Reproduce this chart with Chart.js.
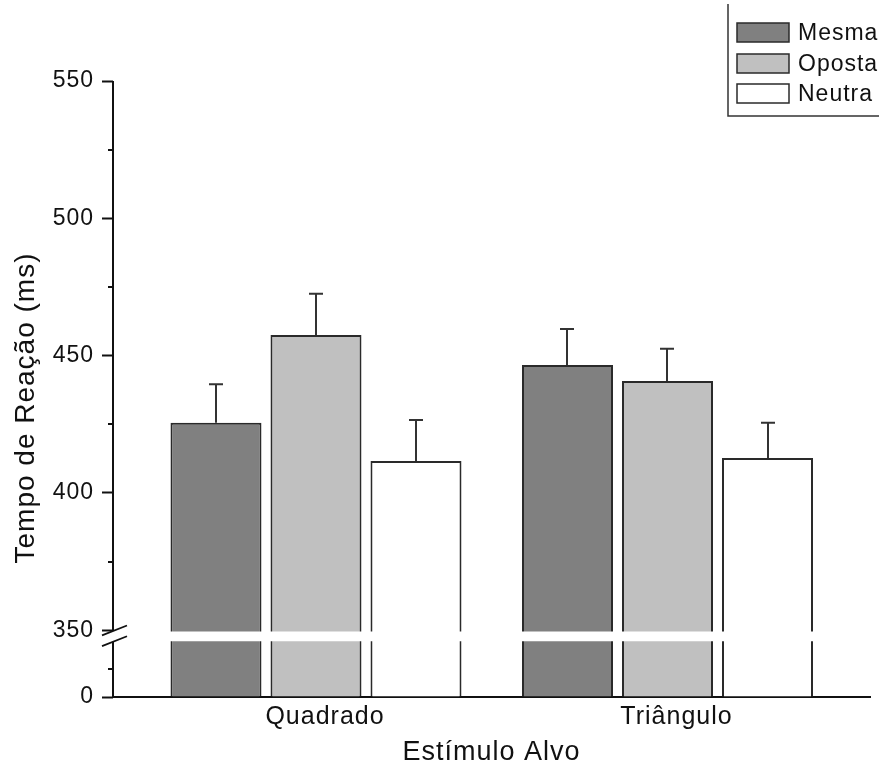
<!DOCTYPE html>
<html>
<head>
<meta charset="utf-8">
<script src="https://cdn.jsdelivr.net/npm/chart.js@4/dist/chart.umd.min.js"></script>
<style>
  html, body { margin: 0; padding: 0; background: #ffffff; }
  canvas { display: block; }
</style>
</head>
<body>
<canvas id="c" width="879" height="763"></canvas>
<script>
// ---------- data ----------
const categories = ['Quadrado', 'Triângulo'];
const seriesNames = ['Mesma', 'Oposta', 'Neutra'];
const mesma  = [425.6, 446.6];
const oposta = [457.5, 440.8];
const neutra = [411.6, 412.7];
const mesmaErr  = [14, 13.1];
const opostaErr = [15, 11.7];
const neutraErr = [15, 12.9];
const yTickValues = [0, 350, 400, 450, 500, 550];
const yMinorUpper = [375, 425, 475, 525];
const yMinorLower = [25];
const yTitle = 'Tempo de Reação (ms)';
const xTitle = 'Estímulo Alvo';

// ---------- broken axis mapping ----------
const BREAK_AT = 350;      // upper segment starts here
const UPPER_BASE = 24.3;   // display units where 350 sits
const LOWER_MAX = 50;      // lower segment 0..50
const GAP_LO = 20.3;       // display units: top of lower segment
const GAP_HI = 23.85;      // display units: bottom of upper segment
function toDisp(v) {
  if (v >= BREAK_AT) return v - BREAK_AT + UPPER_BASE;
  return Math.min(v, LOWER_MAX) / LOWER_MAX * GAP_LO;
}
const X_MIN = -0.5775, X_MAX = 1.5761;

const FONT = "'Liberation Sans', Arial, sans-serif";
const INK = '#111111';
const fills = ['#808080', '#c0c0c0', '#ffffff'];
const values = [mesma, oposta, neutra];
const errors = [mesmaErr, opostaErr, neutraErr];

const datasets = seriesNames.map((name, s) => ({
  label: name,
  data: values[s].map((v, i) => ({ x: i, y: toDisp(v) })),
  backgroundColor: fills[s],
  borderColor: '#2a2a2a',
  borderWidth: 2,
  categoryPercentage: 0.8535,
  barPercentage: 0.91
}));

const spacingPlugin = {
  id: 'spacing',
  beforeDraw(chart) { chart.ctx.letterSpacing = '1px'; }
};

const breakPlugin = {
  id: 'breakAxis',
  afterDatasetsDraw(chart) {
    const ctx = chart.ctx;
    const y = chart.scales.y;
    const area = chart.chartArea;
    const ax = area.left;
    const gTop = y.getPixelForValue(GAP_HI);
    const gBot = y.getPixelForValue(GAP_LO);
    ctx.save();
    ctx.fillStyle = '#ffffff';
    ctx.fillRect(ax + 1, gTop, area.right - ax - 1, gBot - gTop);
    ctx.strokeStyle = '#111';
    ctx.lineWidth = 2;
    ctx.beginPath();
    ctx.moveTo(ax, y.getPixelForValue(y.max));
    ctx.lineTo(ax, gTop - 0.5);
    ctx.moveTo(ax, gBot + 0.5);
    ctx.lineTo(ax, y.getPixelForValue(0));
    ctx.stroke();
    ctx.lineWidth = 1.8;
    ctx.beginPath();
    [gTop - 0.5, gBot + 0.5].forEach(g => {
      ctx.moveTo(ax - 11, g + 4.3);
      ctx.lineTo(ax + 14, g - 5.5);
    });
    ctx.stroke();
    ctx.lineWidth = 2;
    ctx.beginPath();
    yMinorUpper.concat(yMinorLower).forEach(v => {
      const py = Math.round(y.getPixelForValue(toDisp(v)));
      ctx.moveTo(ax - 5, py);
      ctx.lineTo(ax, py);
    });
    ctx.stroke();
    ctx.strokeStyle = '#333';
    ctx.lineWidth = 2;
    chart.data.datasets.forEach((ds, s) => {
      const meta = chart.getDatasetMeta(s);
      meta.data.forEach((bar, i) => {
        const top = y.getPixelForValue(toDisp(values[s][i] + errors[s][i]));
        const bx = Math.round(bar.x);
        ctx.beginPath();
        ctx.moveTo(bx, bar.y);
        ctx.lineTo(bx, top);
        ctx.moveTo(bx - 7, top);
        ctx.lineTo(bx + 7, top);
        ctx.stroke();
      });
    });
    ctx.restore();
  }
};

const titlesLegendPlugin = {
  id: 'titlesLegend',
  afterDraw(chart) {
    const ctx = chart.ctx;
    const area = chart.chartArea;
    ctx.save();
    ctx.letterSpacing = '1px';
    ctx.fillStyle = INK;
    ctx.font = `27px ${FONT}`;
    ctx.textAlign = 'center';
    ctx.textBaseline = 'alphabetic';
    ctx.fillText(xTitle, (area.left + area.right) / 2, 759.5);
    ctx.save();
    ctx.translate(33.5, 408);
    ctx.rotate(-Math.PI / 2);
    ctx.font = `28px ${FONT}`;
    ctx.fillText(yTitle, 0, 0);
    ctx.restore();
    ctx.strokeStyle = '#333';
    ctx.lineWidth = 1.5;
    ctx.beginPath();
    ctx.moveTo(728, 4);
    ctx.lineTo(728, 116);
    ctx.lineTo(879, 116);
    ctx.stroke();
    const tops = [23, 54, 84];
    ctx.font = `23px ${FONT}`;
    ctx.textAlign = 'left';
    ctx.textBaseline = 'middle';
    chart.data.datasets.forEach((ds, s) => {
      ctx.fillStyle = ds.backgroundColor;
      ctx.fillRect(737, tops[s], 52, 19);
      ctx.strokeStyle = '#2a2a2a';
      ctx.lineWidth = 1.5;
      ctx.strokeRect(737, tops[s], 52, 19);
      ctx.fillStyle = INK;
      ctx.fillText(ds.label, 798, tops[s] + 10.5);
    });
    ctx.restore();
  }
};

new Chart(document.getElementById('c'), {
  type: 'bar',
  data: { datasets },
  options: {
    responsive: false,
    animation: false,
    layout: { padding: { top: 81, right: 9, left: 0, bottom: 0 } },
    plugins: { legend: { display: false }, tooltip: { enabled: false } },
    scales: {
      x: {
        type: 'linear',
        min: X_MIN,
        max: X_MAX,
        offset: false,
        bounds: 'data',
        afterDataLimits: s => { s.min = X_MIN; s.max = X_MAX; },
        afterBuildTicks: s => {
          s.ticks = categories.map((c, i) => ({ value: i }));
          s.min = X_MIN; s.max = X_MAX;
        },
        afterFit: s => { s.height = 66; },
        ticks: {
          callback: (v, i) => categories[i],
          font: { family: FONT, size: 25 },
          color: INK,
          padding: 5,
          labelOffset: 9,
          autoSkip: false,
          maxRotation: 0
        },
        grid: { display: false, drawTicks: false, offset: false },
        border: { display: true, width: 2, color: '#111' }
      },
      y: {
        type: 'linear',
        min: 0,
        max: toDisp(550),
        afterBuildTicks: s => { s.ticks = yTickValues.map(v => ({ value: toDisp(v) })); },
        afterFit: s => { s.width = 113; },
        ticks: {
          callback: (v, i) => String(yTickValues[i]),
          font: { family: FONT, size: 23 },
          color: INK,
          padding: 8
        },
        grid: { drawOnChartArea: false, tickLength: 11, tickWidth: 2, tickColor: '#111' },
        border: { display: false }
      }
    }
  },
  plugins: [spacingPlugin, breakPlugin, titlesLegendPlugin]
});
</script>
</body>
</html>
